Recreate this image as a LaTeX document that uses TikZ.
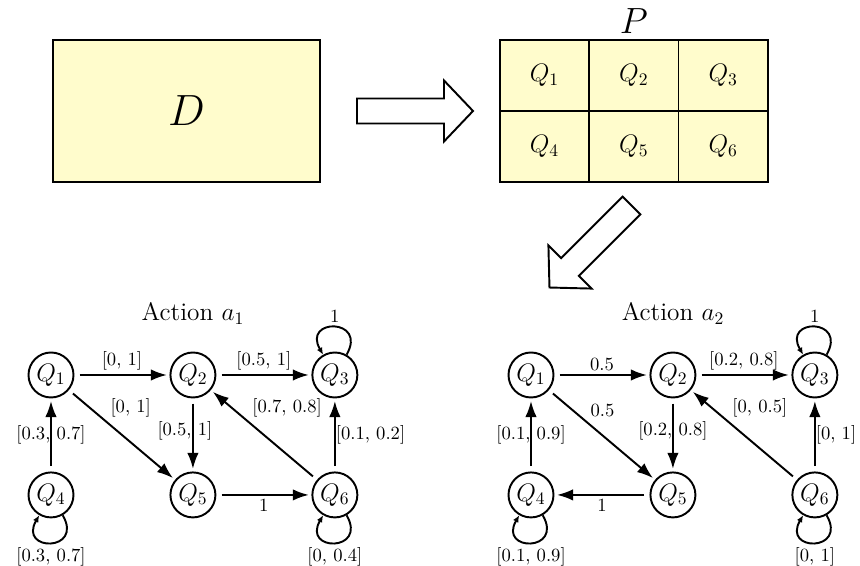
\documentclass[tikz,border=0pt]{standalone}
\usepackage{amsmath}
\usepackage{xcolor}
\usepackage{tikz}
\usetikzlibrary{positioning,arrows.meta}

\begin{document}
\begin{tikzpicture}[
    bigbox/.style={rectangle, draw=black, line width=1.1pt, fill=yellow!20, minimum width=5.35cm, minimum height=2.84cm, inner sep=0pt},
    cell/.style={rectangle, draw=black, line width=1.1pt, fill=yellow!20, minimum width=1.787cm, minimum height=1.42cm, inner sep=0pt, outer sep=0pt, font=\Large},
    qnode/.style={circle, draw=black, line width=1.1pt, minimum size=0.9cm, inner sep=0pt, font=\Large},
    hollow/.style={draw=black, line width=1.1pt, fill=white, line join=miter},
    arrow/.style={-{Latex[length=3.2mm,width=2.3mm]}, line width=1.1pt, shorten <=3pt, shorten >=1.5pt},
    selfloop/.style={-{Latex[length=1.4mm,width=1.2mm]}, line width=1.1pt, min distance=0.85cm},
    lbl/.style={inner sep=2pt, font=\fontsize{10.6}{13}\selectfont},
    title/.style={font=\Large},
    node distance=1.46cm and 1.9cm
]
\useasboundingbox (0,0) rectangle (17.2,11.32);

% top row: D, then the partition P
\node[bigbox, font=\Huge] (d) at (3.73,9.10) {$D$};
\draw[hollow, shift={(7.14,9.10)}] (0,-0.25) -- (1.74,-0.25) -- (1.74,-0.61) -- (2.32,0) -- (1.74,0.61) -- (1.74,0.25) -- (0,0.25) -- cycle;
\node[cell] (p1) at (10.89,9.81) {$Q_1$};
\node[cell, right=0pt of p1] (p2) {$Q_2$};
\node[cell, right=0pt of p2] (p3) {$Q_3$};
\node[cell, below=0pt of p1] (p4) {$Q_4$};
\node[cell, below=0pt of p2] (p5) {$Q_5$};
\node[cell, below=0pt of p3] (p6) {$Q_6$};
\node[font=\huge, above=0pt of p2] (plabel) {$P$};
\draw[hollow, shift={(12.63,7.21)}, rotate=225] (0,-0.25) -- (1.74,-0.25) -- (1.74,-0.61) -- (2.32,0) -- (1.74,0.61) -- (1.74,0.25) -- (0,0.25) -- cycle;

% action a1
\node[title] (t1) at (3.86,5.05) {Action $a_1$};
\node[qnode] (l1) at (1.02,3.82) {$Q_1$};
\node[qnode, right=of l1] (l2) {$Q_2$};
\node[qnode, right=of l2] (l3) {$Q_3$};
\node[qnode, below=of l1] (l4) {$Q_4$};
\node[qnode, below=of l2] (l5) {$Q_5$};
\node[qnode, below=of l3] (l6) {$Q_6$};
\draw[arrow] (l1) -- node[lbl, above] {[0, 1]} (l2);
\draw[arrow] (l2) -- node[lbl, above] {[0.5, 1]} (l3);
\draw[arrow] (l1) -- node[lbl, pos=0.35, above right] {[0, 1]} (l5);
\draw[arrow] (l2) -- node[lbl, pos=0.45, xshift=-0.16cm] {[0.5, 1]} (l5);
\draw[arrow] (l6) -- node[lbl, pos=0.65, above right] {[0.7, 0.8]} (l2);
\draw[arrow] (l6) -- node[lbl, right, inner sep=0pt] {[0.1, 0.2]} (l3);
\draw[arrow] (l5) -- node[lbl, below] {1} (l6);
\draw[arrow] (l4) -- node[lbl] {[0.3, 0.7]} (l1);
\draw[selfloop] (l3) to[out=60, in=120] node[lbl, above] {1} (l3);
\draw[selfloop] (l4) to[out=-60, in=-120] node[lbl, below] {[0.3, 0.7]} (l4);
\draw[selfloop] (l6) to[out=-60, in=-120] node[lbl, below] {[0, 0.4]} (l6);

% action a2
\node[title] (t2) at (13.46,5.05) {Action $a_2$};
\node[qnode] (r1) at (10.62,3.82) {$Q_1$};
\node[qnode, right=of r1] (r2) {$Q_2$};
\node[qnode, right=of r2] (r3) {$Q_3$};
\node[qnode, below=of r1] (r4) {$Q_4$};
\node[qnode, below=of r2] (r5) {$Q_5$};
\node[qnode, below=of r3] (r6) {$Q_6$};
\draw[arrow] (r1) -- node[lbl, above] {0.5} (r2);
\draw[arrow] (r2) -- node[lbl, above] {[0.2, 0.8]} (r3);
\draw[arrow] (r1) -- node[lbl, pos=0.35, above right] {0.5} (r5);
\draw[arrow] (r2) -- node[lbl, pos=0.45] {[0.2, 0.8]} (r5);
\draw[arrow] (r6) -- node[lbl, pos=0.65, above right] {[0, 0.5]} (r2);
\draw[arrow] (r6) -- node[lbl, right, inner sep=0pt] {[0, 1]} (r3);
\draw[arrow] (r5) -- node[lbl, below] {1} (r4);
\draw[arrow] (r4) -- node[lbl] {[0.1, 0.9]} (r1);
\draw[selfloop] (r3) to[out=60, in=120] node[lbl, above] {1} (r3);
\draw[selfloop] (r4) to[out=-60, in=-120] node[lbl, below] {[0.1, 0.9]} (r4);
\draw[selfloop] (r6) to[out=-60, in=-120] node[lbl, below] {[0, 1]} (r6);

\end{tikzpicture}
\end{document}
